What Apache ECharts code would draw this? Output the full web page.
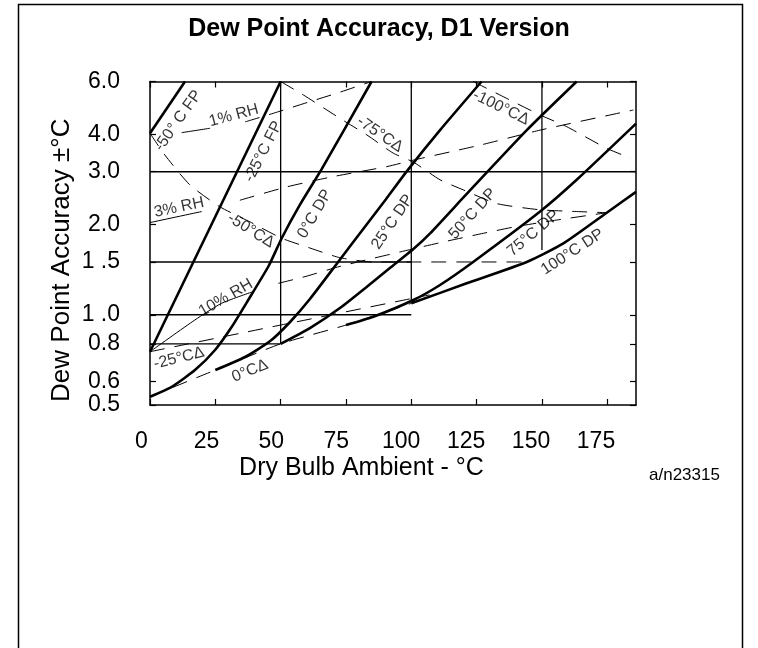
<!DOCTYPE html>
<html>
<head>
<meta charset="utf-8">
<script src="https://cdn.jsdelivr.net/npm/echarts@6/dist/echarts.min.js"></script>
<style>html,body{margin:0;padding:0;background:#fff}#c{width:758px;height:648px}</style>
</head>
<body>
<div id="c"></div>
<script>
// ---------- tick labels ----------
const xTickValues = [0, 25, 50, 75, 100, 125, 150, 175];
const yTickValues = [0.5, 0.6, 0.8, 1, 1.5, 2, 3, 4, 6];
const yTickText   = ['0.5', '0.6', '0.8', '1 .0', '1 .5', '2.0', '3.0', '4.0', '6.0'];

// ---------- solid curves: [dry bulb °C, accuracy ±°C] ----------
const fpMinus50 = [[0, 4.03], [13.4, 6.0]];
const fpMinus25 = [[0, 0.753], [50, 6.0]];
const dp0   = [[0, 0.533], [8.3, 0.575], [17.2, 0.654], [24.9, 0.763], [31.3, 0.912], [37.6, 1.12], [45.5, 1.46], [50.4, 1.80], [57.4, 2.33], [65.7, 3.06], [84.8, 6.0]];
const dp25  = [[25, 0.654], [36.4, 0.723], [46.0, 0.817], [53.6, 0.946], [61.2, 1.129], [72.0, 1.50], [82.7, 1.99], [90.3, 2.43], [98.4, 3.02], [111.0, 4.13], [126.9, 6.0]];
const dp50  = [[50, 0.80], [61.2, 0.903], [72.7, 1.053], [82.9, 1.238], [91.8, 1.432], [100.8, 1.657], [107.2, 1.869], [121.2, 2.53], [144.2, 4.13], [163.3, 6.0]];
const dp75  = [[75, 0.924], [85.5, 0.985], [100.8, 1.12], [111.0, 1.257], [123.8, 1.503], [149.3, 2.21], [163.3, 2.82], [186, 4.34]];
const dp100 = [[100, 1.092], [121.2, 1.273], [144.2, 1.50], [158.2, 1.73], [174.8, 2.19], [186, 2.57]];

// ---------- dashed curves ----------
const rh1   = [[12.1, 4.05], [23.0, 4.19], [36.4, 4.40], [47.2, 4.70], [61.2, 5.14], [71.4, 5.48], [84.8, 6.0]];
const rh3   = [[0, 2.03], [19.8, 2.21], [34.4, 2.41], [52.3, 2.67], [70.1, 2.89], [90.6, 3.12], [100.8, 3.28], [126.3, 3.68], [149.3, 4.13], [185, 4.82]];
const rh10  = [[0, 0.753], [17.2, 0.961], [27.4, 1.092], [38.9, 1.19], [49.1, 1.273], [59.3, 1.34], [72.7, 1.45], [95.7, 1.62], [112.3, 1.75], [127.6, 1.87], [140.3, 1.97], [155.6, 2.07], [174.8, 2.19]];
const deltaZero     = [[0, 0.533], [25, 0.654], [50, 0.80], [75, 0.924], [100, 1.092]];
const deltaMinus25  = [[0, 0.753], [50, 0.924], [107, 1.165]];
const deltaMinus50  = [[0, 4.03], [5.7, 3.41], [15.3, 2.71], [26.8, 2.29], [38.3, 2.04], [50.4, 1.80], [61.2, 1.67], [72.7, 1.55], [85.5, 1.50], [100, 1.50], [143, 1.50]];
const deltaMinus75  = [[50, 6.0], [58.7, 5.41], [72.7, 4.52], [83.0, 3.98], [93.1, 3.46], [100.8, 3.23], [111.0, 2.82], [119.9, 2.61], [132.6, 2.35], [149.2, 2.24], [163.3, 2.21], [174.8, 2.19]];
const deltaMinus100 = [[123.7, 6.0], [133.9, 5.41], [149.3, 4.64], [159.5, 4.24], [174.8, 3.59], [184, 3.33]];

// ---------- partial grid lines ----------
const hGridLines = [[3, 186], [1.5, 100], [1, 100], [0.8, 50]];   // [value, x end] (from x = 0)
const vGridLines = [[50, 0.8], [100, 1.092], [150, 1.645]];        // [x, lowest value] (to top)

// ---------- curve labels ----------
const curveLabels = [
  { text: '-50° C FP', x: 10.8, y: 4.44, rot: 55 },
  { text: '1% RH',     x: 32.1, y: 4.62, rot: 15 },
  { text: '-25°C FP',  x: 43.4, y: 3.50, rot: 63 },
  { text: '-75°CΔ',    x: 88.0, y: 4.00, rot: -34 },
  { text: '3% RH',     x: 11.1, y: 2.28, rot: 12 },
  { text: '-50°CΔ',    x: 38.6, y: 1.91, rot: -32 },
  { text: '0°C DP',    x: 63.1, y: 2.17, rot: 60 },
  { text: '25°C DP',   x: 92.8, y: 2.04, rot: 56 },
  { text: '50°C DP',   x: 123.5, y: 2.17, rot: 48 },
  { text: '-100°CΔ',   x: 134.3, y: 4.91, rot: -26 },
  { text: '75°C DP',   x: 146.7, y: 1.87, rot: 40 },
  { text: '100°C DP',  x: 161.7, y: 1.62, rot: 33 },
  { text: '10% RH',    x: 29.0, y: 1.14, rot: 30 },
  { text: '-25°CΔ',    x: 11.1, y: 0.716, rot: 14 },
  { text: '0°CΔ',      x: 38.3, y: 0.650, rot: 22 }
];

// ---------- build ----------
const FONT = "'Liberation Sans', Arial, sans-serif";
const XMAX = 186;

function line(data, width, type, smooth) {
  return {
    type: 'line', data: data, symbol: 'none', showSymbol: false,
    smooth: smooth === undefined ? 0.2 : smooth,
    lineStyle: { color: '#000', width: width, type: type },
    silent: true, animation: false, z: type === 'solid' ? 4 : 3,
    emphasis: { disabled: true }
  };
}
const DASH = [15, 10];
const series = [];

hGridLines.forEach(function (g) { series.push(Object.assign(line([[0, g[0]], [g[1], g[0]]], 1.3, 'solid', false), { z: 2 })); });
vGridLines.forEach(function (g) { series.push(Object.assign(line([[g[0], g[1]], [g[0], 6]], 1.3, 'solid', false), { z: 2 })); });

[fpMinus50, fpMinus25, dp0, dp25, dp50, dp75, dp100].forEach(function (d) { series.push(line(d, 2.6, 'solid')); });

[[rh1, 1, 2], [rh3, 1, 2], [rh10, 3, 4]].forEach(function (r) {
  series.push(line(r[0].slice(0, r[1] + 1), 1, 'solid'));
  series.push(line(r[0].slice(r[2]), 1, DASH));
});
[deltaZero, deltaMinus25, deltaMinus50, deltaMinus75, deltaMinus100].forEach(function (d) { series.push(line(d, 1, DASH)); });

series.push({
  type: 'scatter', symbolSize: 1, silent: true, animation: false, z: 10,
  itemStyle: { color: 'rgba(0,0,0,0)' }, emphasis: { disabled: true },
  label: { show: true, position: 'inside', color: '#000', fontSize: 16, fontFamily: FONT },
  data: curveLabels.map(function (l) {
    return { value: [l.x, l.y], label: { formatter: l.text, rotate: l.rot } };
  })
});

const axisLine = { onZero: false, lineStyle: { color: '#000', width: 1.5 } };
const tickStyle = { color: '#000', width: 1.2 };

const option = {
  animation: false,
  backgroundColor: '#fff',
  title: [
    { text: 'Dew Point Accuracy, D1 Version', left: 'center', top: 17, padding: 0,
      textStyle: { fontSize: 25, fontWeight: 'bold', color: '#000', fontFamily: FONT } },
    { text: 'a/n23315', left: 649, top: 467, padding: 0,
      textStyle: { fontSize: 17, fontWeight: 'normal', color: '#000', fontFamily: FONT } }
  ],
  graphic: [
    { type: 'rect', left: 16, top: 2, shape: { width: 724, height: 700 }, silent: true,
      style: { fill: 'none', stroke: '#000', lineWidth: 1.5 } }
  ],
  grid: [
    { left: 150, top: 81.5, width: 486, height: 323.5, outerBoundsMode: 'none' },
    // wider helper grid that carries only the x tick labels and the x axis title
    { left: 130, top: 81.5, width: 500, height: 323.5, outerBoundsMode: 'none' }
  ],
  xAxis: [
    { type: 'value', gridIndex: 0, min: 0, max: XMAX, position: 'bottom', axisLine: axisLine,
      axisTick: { inside: true, length: 6, lineStyle: tickStyle, customValues: xTickValues },
      axisLabel: { show: false }, splitLine: { show: false } },
    { type: 'value', gridIndex: 0, min: 0, max: XMAX, position: 'top', axisLine: axisLine,
      axisTick: { inside: true, length: 6, lineStyle: tickStyle, customValues: xTickValues },
      axisLabel: { show: false }, splitLine: { show: false } },
    { type: 'value', gridIndex: 1, min: -4.43, max: 188.1, position: 'bottom',
      axisLine: { show: false, onZero: false }, axisTick: { show: false }, splitLine: { show: false },
      axisLabel: { customValues: xTickValues, margin: 25, fontSize: 23, color: '#000', fontFamily: FONT },
      name: 'Dry Bulb Ambient - °C', nameLocation: 'middle', nameGap: 51,
      nameTextStyle: { fontSize: 25, color: '#000', fontFamily: FONT, padding: [0, 37, 0, 0] } }
  ],
  yAxis: [
    { type: 'log', gridIndex: 0, logBase: 10, min: 0.5, max: 6, position: 'left', axisLine: axisLine,
      axisTick: { inside: true, length: 6, lineStyle: tickStyle, customValues: yTickValues },
      axisLabel: { customValues: yTickValues, margin: 30, fontSize: 23, color: '#000', fontFamily: FONT,
        formatter: function (v) {
          const i = yTickValues.findIndex(function (t) { return Math.abs(t - v) < 1e-6; });
          return i >= 0 ? yTickText[i] : '';
        } },
      splitLine: { show: false }, minorTick: { show: false },
      name: 'Dew Point Accuracy ±°C', nameLocation: 'middle', nameGap: 75, nameRotate: 90,
      nameMoveOverlap: false,
      nameTextStyle: { fontSize: 26, color: '#000', fontFamily: FONT, padding: [0, 34, 0, 0] } },
    { type: 'log', gridIndex: 0, logBase: 10, min: 0.5, max: 6, position: 'right', axisLine: axisLine,
      axisTick: { inside: true, length: 6, lineStyle: tickStyle, customValues: yTickValues },
      axisLabel: { show: false }, splitLine: { show: false } },
    { type: 'value', gridIndex: 1, min: 0, max: 1, show: false }
  ],
  series: series
};

const chart = echarts.init(document.getElementById('c'), null, { renderer: 'canvas' });
chart.setOption(option);
</script>
</body>
</html>
